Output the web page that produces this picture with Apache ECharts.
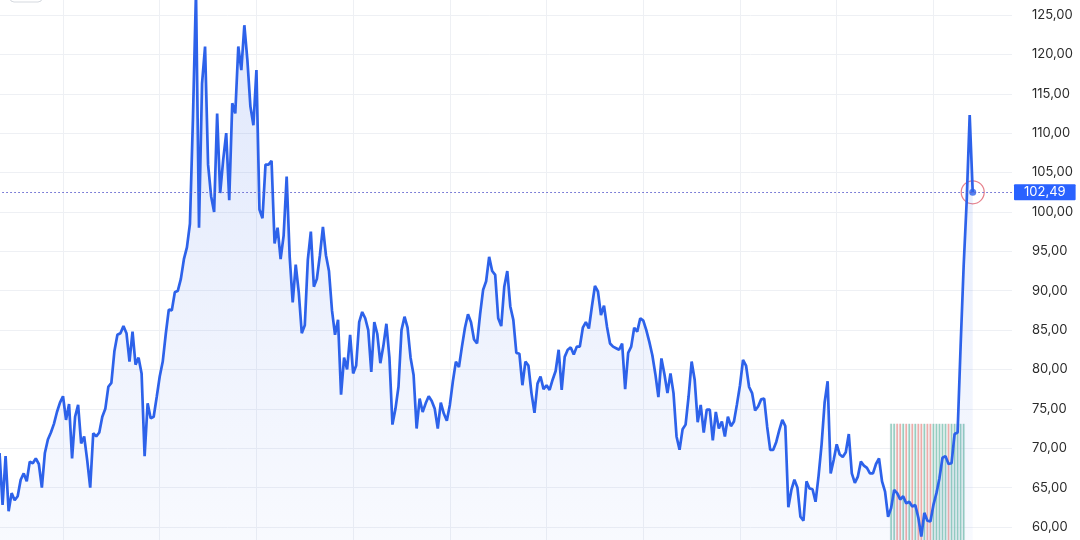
<!DOCTYPE html>
<html>
<head>
<meta charset="utf-8">
<script src="https://cdn.jsdelivr.net/npm/echarts@6/dist/echarts.min.js"></script>
<style>
html,body{margin:0;padding:0;background:#ffffff;overflow:hidden;width:1080px;height:540px;position:relative;}
#c{position:absolute;left:-34px;top:-25px;width:1114px;height:592px;}
</style>
</head>
<body>
<div id="c"></div>
<script>
// ---- data ----
const seriesStart = 11;            // x-axis index of the first close
const closes = [
  69.4, 62.8, 69.0, 62.0, 64.3, 63.4, 63.9, 66.0, 66.8, 65.8,
  68.3, 68.1, 68.7, 68.0, 65.0, 69.4, 71.1, 72.0, 73.1, 74.6,
  75.8, 76.6, 73.6, 75.6, 68.7, 74.0, 75.5, 70.6, 71.5, 68.5,
  65.0, 71.9, 71.5, 72.0, 74.0, 75.0, 77.8, 78.3, 82.3, 84.4,
  84.6, 85.5, 84.6, 81.0, 84.8, 80.6, 81.5, 79.5, 69.0, 75.7,
  73.8, 74.0, 76.5, 79.1, 81.0, 84.5, 87.6,
  87.5, 89.8, 90.0, 91.5, 94.0, 95.5, 98.5, 112.0, 128.0, 98.0,
  116.3, 121.0, 106.0, 102.0, 100.0, 112.5, 102.4, 106.6, 110.0, 101.5,
  113.8, 112.5, 121.0, 118.0, 123.7, 119.3, 113.4, 111.0, 118.0, 100.3,
  99.2, 106.0, 106.0, 106.5, 96.0, 98.0, 94.0, 97.0, 104.5, 94.3,
  88.5, 93.3, 89.8, 84.6, 85.6, 93.9, 97.5, 90.5, 91.5, 94.5,
  98.1, 94.5, 92.5, 87.5,
  84.4, 86.3, 76.8, 81.5, 80.0, 84.4, 79.5, 80.5, 86.0, 87.3,
  86.5, 85.0, 79.7, 86.0, 84.5, 80.8, 83.0, 85.8, 81.5, 73.0,
  75.0, 77.8, 85.0, 86.7, 85.3, 81.5, 79.3, 72.5, 76.3, 74.6,
  75.7, 76.6, 76.0, 75.0, 72.5, 75.8, 74.4, 73.5, 75.5, 78.5,
  81.0, 80.3, 82.9, 85.3, 87.0, 86.0, 83.8, 83.3, 87.0, 90.1,
  91.2, 94.3, 92.5, 92.0, 86.5, 85.5,
  90.5, 92.5, 88.0, 86.3, 82.1, 82.0, 78.0, 81.0, 80.5, 77.0,
  74.5, 78.2, 79.1, 77.5, 78.0, 77.4, 78.7, 79.8, 82.5, 77.4,
  81.6, 82.5, 82.8, 81.9, 82.9, 82.9, 85.3, 86.0, 85.2, 88.0,
  90.6, 89.9, 86.9, 88.1, 85.4, 83.3, 82.9, 82.7, 82.5, 83.3,
  77.5, 82.1, 82.9, 85.3, 84.8, 86.5, 86.2, 85.0, 83.5, 81.8,
  79.4, 76.5, 81.4, 79.4, 77.0, 79.5, 77.0, 71.5,
  69.8, 72.4, 73.0, 76.6, 81.0, 78.7, 73.3, 75.5, 72.0, 74.9,
  74.9, 71.0, 74.6, 72.5, 73.4, 71.5, 74.0, 72.8, 73.4, 75.6,
  78.0, 81.2, 80.5, 77.8, 77.0, 74.8, 75.3, 76.2, 76.3, 72.7,
  69.8, 69.8, 70.8, 72.3, 73.6, 72.8, 62.5, 64.7, 66.0, 65.0,
  61.3, 60.8, 65.8, 64.9, 64.8, 63.2, 66.5, 70.5, 75.8, 78.5,
  66.8, 68.5, 70.5, 69.2, 68.9, 69.5, 71.8, 66.8, 65.6, 66.4,
  68.3, 67.8, 67.5, 66.8, 66.8, 68.0, 68.7, 65.8, 64.5, 61.3,
  62.4, 64.7, 64.3, 63.5, 63.9, 63.0, 63.2, 62.6, 62.8, 61.2,
  58.8, 61.8, 60.8, 60.7, 62.8, 64.3, 66.2, 68.8, 69.0, 68.0,
  68.1, 71.8, 72.0, 83.0, 93.1, 101.3, 112.3, 102.49
];
const lastPrice = 102.49;
const volumeFrom = 295;            // first close index with a volume stripe
const volumeTo = 319;              // last close index with a volume stripe
const volumeLevel = 73.1;          // top of the stripes
const yMin = 55, yMax = 130, yStep = 5;

// ---- chart ----
const lineColor = '#2d62ea';
const upColor = 'rgba(110,190,170,0.7)';
const downColor = 'rgba(238,140,135,0.7)';
const fmt = v => v.toFixed(2).replace('.', ',');

const points = closes.map((v, i) => [seriesStart + i, v]);
const last = points[points.length - 1];
const vol = [];
for (let i = volumeFrom; i <= volumeTo; i++) {
  vol.push({
    value: [seriesStart + i, volumeLevel],
    itemStyle: { color: closes[i] >= closes[i - 1] ? upColor : downColor }
  });
}

const chart = echarts.init(document.getElementById('c'), null, { renderer: 'canvas' });
chart.setOption({
  animation: false,
  backgroundColor: '#ffffff',
  grid: { left: 0.3, right: 68, top: 0.6, bottom: 0.6, containLabel: false, outerBoundsMode: 'none' },
  xAxis: {
    type: 'value', min: 0, max: 346, interval: 32,
    axisLine: { show: false }, axisTick: { show: false }, axisLabel: { show: false },
    splitLine: { show: true, showMinLine: false, showMaxLine: false, lineStyle: { color: '#eef0f4', width: 1 } }
  },
  yAxis: {
    type: 'value', position: 'right', min: yMin, max: yMax, interval: yStep,
    axisLine: { show: false }, axisTick: { show: false },
    axisLabel: { margin: 20, color: '#2b2b2b', fontSize: 13, fontFamily: 'Inter, Roboto, sans-serif', formatter: fmt },
    splitLine: { show: true, lineStyle: { color: '#eef0f4', width: 1 } }
  },
  series: [
    {
      type: 'bar', data: vol, barWidth: 1.6, silent: true, clip: true,
      markArea: {
        silent: true,
        itemStyle: { color: 'rgba(215,224,226,0.35)' },
        data: [[{ xAxis: seriesStart + volumeFrom - 0.5, yAxis: yMin }, { xAxis: seriesStart + volumeTo + 0.5, yAxis: volumeLevel }]]
      }
    },
    {
      type: 'line', data: points, symbol: 'none', showSymbol: false, clip: true,
      lineStyle: { color: lineColor, width: 2.7 },
      areaStyle: {
        origin: 'start',
        color: new echarts.graphic.LinearGradient(0, 0, 0, 1, [
          { offset: 0, color: 'rgba(45,98,234,0.22)' },
          { offset: 1, color: 'rgba(45,98,234,0.04)' }
        ])
      },
      markLine: {
        symbol: 'none', silent: true,
        lineStyle: { type: [1.5, 2.5], color: '#5a5ccc', width: 1.2 },
        label: {
          position: 'end', distance: 2, formatter: () => fmt(lastPrice),
          backgroundColor: '#2962ff', color: '#ffffff', padding: [2, 10, 1, 10],
          fontSize: 13, fontFamily: 'Inter, Roboto, sans-serif', borderRadius: 1
        },
        data: [{ yAxis: lastPrice }]
      }
    },
    {
      type: 'scatter', data: [last], symbolSize: 23, silent: true,
      itemStyle: { color: 'rgba(255,255,255,0)', borderColor: '#e0606e', borderWidth: 1.2 }
    },
    {
      type: 'scatter', data: [last], symbolSize: 7, silent: true,
      itemStyle: { color: lineColor }
    }
  ],
  graphic: [
    { type: 'rect', shape: { x: 44, y: 5, width: 32, height: 22, r: 4 }, style: { fill: '#ffffff', stroke: '#d5d9df', lineWidth: 1 } }
  ]
});
</script>
</body>
</html>
